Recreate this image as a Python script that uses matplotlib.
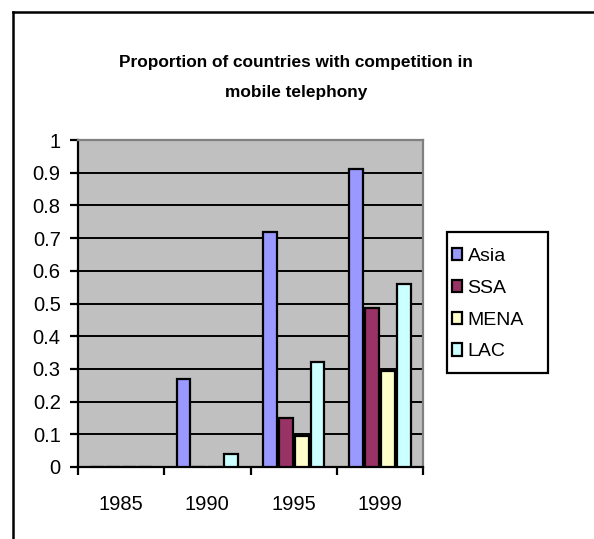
import numpy as np
import matplotlib
matplotlib.use('Agg')
import matplotlib.pyplot as plt
from matplotlib.lines import Line2D
from matplotlib.patches import Rectangle

plt.rcParams['font.family'] = ['Liberation Sans', 'DejaVu Sans']

years  = ["1985", "1990", "1995", "1999"]
series = ["Asia", "SSA", "MENA", "LAC"]
asia   = [0.0, 0.27, 0.72, 0.91]
ssa    = [0.0, 0.0, 0.15, 0.485]
mena   = [0.0, 0.0, 0.095, 0.295]
lac    = [0.0, 0.04, 0.32, 0.56]
colors = ["#9999FF", "#993366", "#FFFFCC", "#CCFFFF"]

W, H = 594, 539
fig = plt.figure(figsize=(W / 100, H / 100), dpi=100)
ax = fig.add_axes([78 / W, 1 - 467 / H, (423 - 78) / W, (467 - 140) / H])
ax.set_facecolor("#C0C0C0")

x = np.arange(len(years))
pitch, width = 0.185, 0.16
handles = []
for i, (name, vals) in enumerate(zip(series, [asia, ssa, mena, lac])):
    b = ax.bar(x + (i - 1.5) * pitch, vals, width, color=colors[i],
               edgecolor="black", linewidth=1.6, zorder=3, label=name)
    handles.append(b)

ax.set_xlim(-0.5, 3.5)
ax.set_ylim(0, 1)
ax.set_yticks(np.arange(0, 1.01, 0.1))
ax.set_yticklabels(["0"] + [f"{v:.1f}" for v in np.arange(0.1, 0.95, 0.1)] + ["1"])
ax.yaxis.grid(True, color="black", linewidth=1.4, zorder=1)
ax.set_axisbelow(True)

# labels in category centres, tick marks at category boundaries
ax.set_xticks(x)
ax.set_xticklabels(years)
ax.tick_params(axis="x", length=0, pad=20, labelsize=14.5)
ax.set_xticks(np.arange(-0.5, 3.6, 1.0), minor=True)
ax.tick_params(axis="x", which="minor", length=6, width=1.6, direction="out")
ax.tick_params(axis="y", length=6, width=1.6, direction="out", labelsize=14.5, pad=6.5)

for s in ["left", "bottom"]:
    ax.spines[s].set_color("black")
    ax.spines[s].set_linewidth(1.6)
for s in ["top", "right"]:
    ax.spines[s].set_color("#808080")
    ax.spines[s].set_linewidth(1.6)

fig.text(296 / W, 1 - 62 / H, "Proportion of countries with competition in",
         ha="center", va="center", fontsize=12.4, fontweight="bold")
fig.text(296 / W, 1 - 92 / H, "mobile telephony",
         ha="center", va="center", fontsize=12.4, fontweight="bold")

# legend box drawn separately, entries placed inside it
fig.add_artist(Rectangle((447 / W, 1 - 373 / H), (548 - 447) / W, (373 - 232) / H,
                         transform=fig.transFigure, facecolor="white",
                         edgecolor="black", linewidth=1.6, zorder=4))
leg = fig.legend(handles=handles, loc="upper left",
                 bbox_to_anchor=(452 / W, 1 - 248 / H), fontsize=14,
                 frameon=False, handlelength=0.5, handleheight=0.6,
                 handletextpad=0.3, labelspacing=0.76, borderpad=0,
                 borderaxespad=0)
leg.set_zorder(5)

# outer chart border, left and top
fig.add_artist(Line2D([13 / W, 13 / W], [0, 1 - 12 / H], color="black", lw=1.8,
                      transform=fig.transFigure))
fig.add_artist(Line2D([13 / W, 1], [1 - 12 / H, 1 - 12 / H], color="black", lw=1.8,
                      transform=fig.transFigure))

fig.savefig("out.png", dpi=100)
